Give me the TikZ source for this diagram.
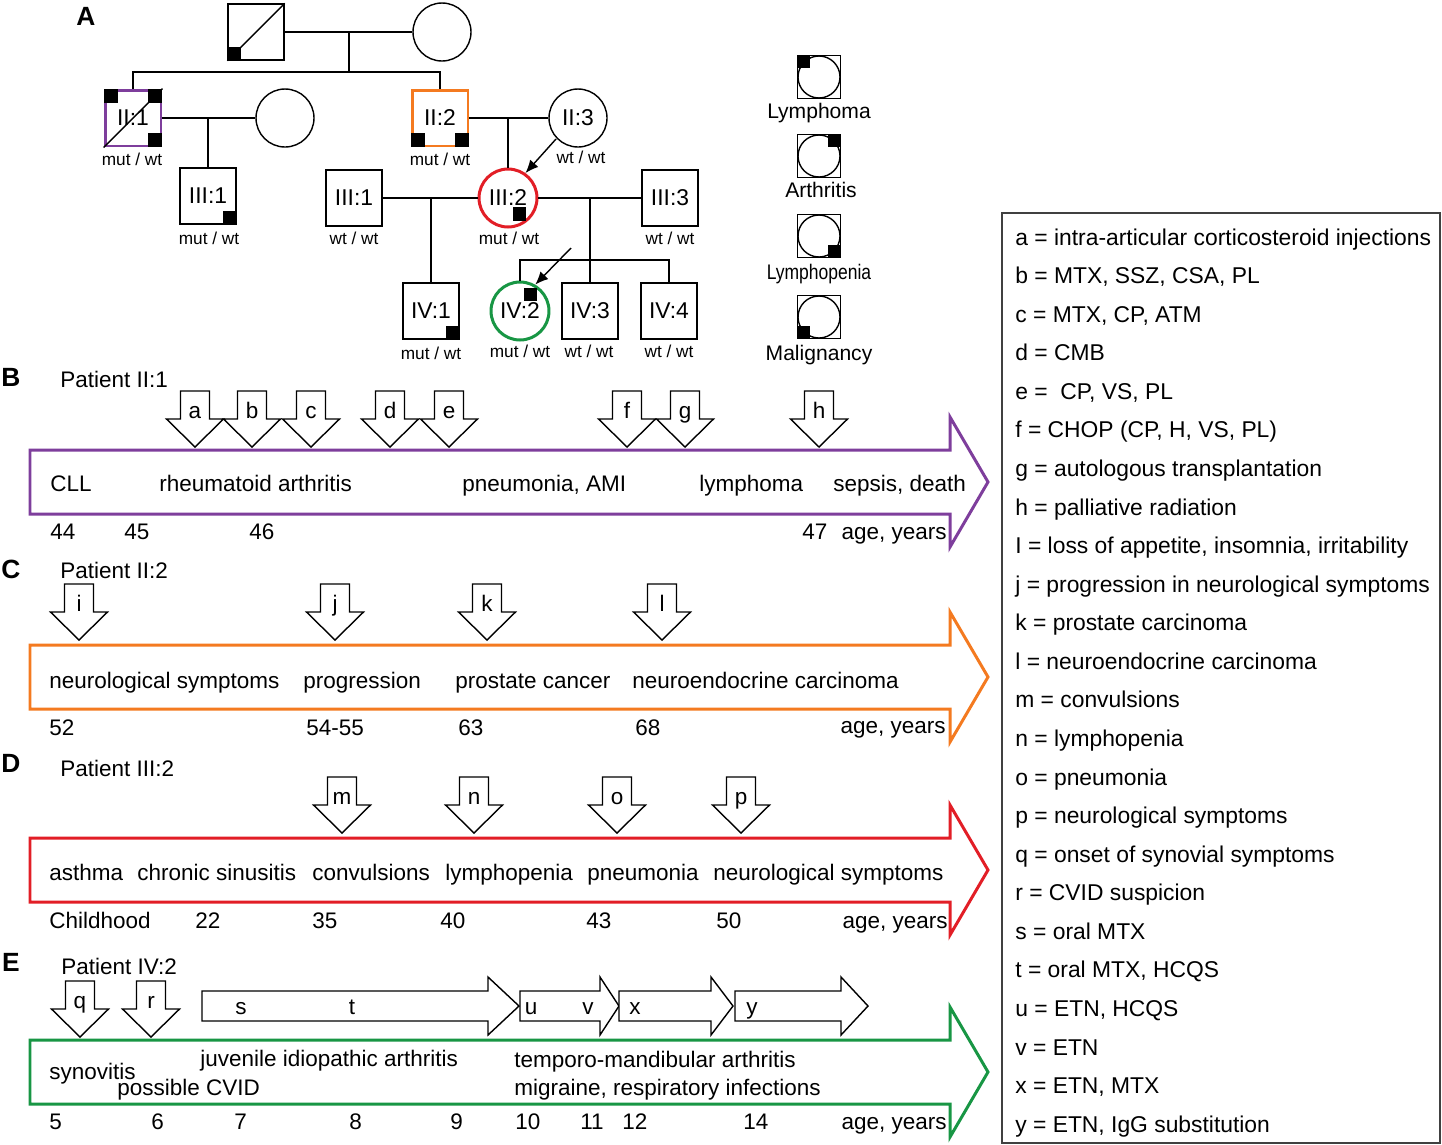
\documentclass[tikz,border=0pt]{standalone}
\usepackage{fontspec}
\setmainfont{Liberation Sans}
\usepackage{graphicx}
\usetikzlibrary{arrows.meta}

\definecolor{pbpurple}{RGB}{126,62,156}
\definecolor{pborange}{RGB}{244,122,32}
\definecolor{pbred}{RGB}{226,30,38}
\definecolor{pbgreen}{RGB}{24,150,68}

\newcommand\idfont{\fontsize{13}{15}\selectfont}
\newcommand\genofont{\fontsize{9.8}{11}\selectfont}

\tikzset{
	txt/.style={inner sep=0pt, text height=9.2pt, text depth=0pt},
	ped/.style={line width=0.8pt},
	male/.style={draw, ped, minimum size=1.12cm, inner sep=0pt, font=\idfont},
	female/.style={draw, ped, circle, minimum size=1.16cm, inner sep=0pt, font=\idfont},
	geno/.style={inner sep=0pt, text height=7pt, text depth=0pt, font=\genofont},
	panel/.style={inner sep=0pt, text height=10.7pt, text depth=0pt, font=\fontsize{15}{17}\selectfont\bfseries},
	keysym/.style={draw, ped, minimum size=0.86cm, inner sep=0pt},
	keytxt/.style={inner sep=0pt, text height=8.6pt, text depth=0pt, font=\fontsize{12}{14}\selectfont},
	outline/.style={line width=0.8pt, fill=white},
	proband/.style={ped, -{Latex[length=0.26cm, width=0.22cm]}},
}

% down arrow: tip x, tip y, letter
\newcommand\dnarrow[3]{%
	\draw[outline] ({#1-14.5},{#2-56}) -- ({#1+14.5},{#2-56}) -- ({#1+14.5},{#2-28}) -- ({#1+28.5},{#2-28})
		-- (#1,#2) -- ({#1-28.5},{#2-28}) -- ({#1-14.5},{#2-28}) -- cycle;
	\node[txt] (ev-#3) at (#1,{#2-37}) {#3};}

% right arrow: start x, head x, tip x, mid y
\newcommand\rtarrow[4]{%
	\draw[outline] (#1,{#4-15}) -- (#2,{#4-15}) -- (#2,{#4-29}) -- (#3,#4) -- (#2,{#4+29}) -- (#2,{#4+15}) -- (#1,{#4+15}) -- cycle;}

% timeline: colour, mid y
\newcommand\timeline[2]{%
	\draw[#1, line width=1.7pt, fill=white] (30,{#2-32}) -- (950,{#2-32}) -- (950,{#2-65}) -- (988,#2)
		-- (950,{#2+65}) -- (950,{#2+32}) -- (30,{#2+32}) -- cycle;}

\begin{document}
\begin{tikzpicture}[x=0.02cm, y=-0.02cm, font=\fontsize{12.8}{15}\selectfont]
	\fill[white] (0,0) rectangle (1442,1144);
	\useasboundingbox (0,0) rectangle (1442,1144);

	% A: pedigree
	\node[panel] (pA) at (86,16) {A};
	\node[male] (I1) at (256,32) {};
	\node[female] (I2) at (442,32) {};
	\draw[ped] (I1.south west) -- (I1.north east);
	\fill (I1.south west) rectangle ++(14,-14);
	\draw[ped] (I1) -- (I2);
	\coordinate (c1) at (349,32);
	\coordinate (s1) at (349,72);
	\draw[ped] (c1) -- (s1);

	\node[male, draw=pbpurple, line width=1.7pt] (II1) at (133,118) {II:1};
	\draw[ped] (II1.south west) -- (II1.north east);
	\fill (II1.north west) rectangle ++(14,14);
	\fill (II1.north east) rectangle ++(-14,14);
	\fill (II1.south east) rectangle ++(-14,-14);
	\node[geno] (gII1) at (132,159) {mut / wt};
	\node[female] (II1p) at (285,118) {};
	\draw[ped] (II1) -- (II1p);

	\node[male, draw=pborange, line width=1.7pt] (II2) at (440,118) {II:2};
	\fill (II2.south west) rectangle ++(14,-14);
	\fill (II2.south east) rectangle ++(-14,-14);
	\node[geno] (gII2) at (440,159) {mut / wt};
	\node[female] (II3) at (578,118) {II:3};
	\node[geno] (gII3) at (581,157) {wt / wt};
	\draw[ped] (II2) -- (II3);
	\draw[ped] (II1.north) |- (s1) -| (II2.north);

	\node[male] (III1a) at (208,196) {III:1};
	\fill (III1a.south east) rectangle ++(-14,-14);
	\node[geno] (gIII1a) at (209,238) {mut / wt};
	\coordinate (c2) at (208,118);
	\draw[ped] (c2) -- (III1a);

	\node[female, draw=pbred, line width=1.7pt] (III2) at (508,198) {III:2};
	\fill (513,207) rectangle (526,221);
	\node[geno] (gIII2) at (509,238) {mut / wt};
	\coordinate (c3) at (508,118);
	\draw[ped] (c3) -- (III2);
	\coordinate (pa1) at (556,139);
	\draw[proband] (pa1) -- (III2.55);

	\node[male] (III1b) at (354,198) {III:1};
	\node[geno] (gIII1b) at (354,238) {wt / wt};
	\node[male] (III3) at (670,198) {III:3};
	\node[geno] (gIII3) at (670,238) {wt / wt};
	\draw[ped] (III1b) -- (III2);
	\draw[ped] (III2) -- (III3);

	\node[male] (IV1) at (431,311) {IV:1};
	\fill (IV1.south east) rectangle ++(-14,-14);
	\node[geno] (gIV1) at (431,353) {mut / wt};
	\coordinate (c4) at (431,198);
	\draw[ped] (c4) -- (IV1);

	\node[female, draw=pbgreen, line width=1.7pt] (IV2) at (520,311) {IV:2};
	\fill (524,288) rectangle (537,301);
	\node[geno] (gIV2) at (520,351) {mut / wt};
	\node[male] (IV3) at (590,311) {IV:3};
	\node[geno] (gIV3) at (589,351) {wt / wt};
	\node[male] (IV4) at (669,311) {IV:4};
	\node[geno] (gIV4) at (669,351) {wt / wt};
	\coordinate (c5) at (590,198);
	\coordinate (s2) at (590,260);
	\draw[ped] (c5) -- (IV3);
	\draw[ped] (IV2.north) |- (s2) -| (IV4.north);
	\coordinate (pa2) at (571,248);
	\draw[proband] (pa2) -- (IV2.60);

	% symbol key
	\node[keysym] (k1) at (819,77) {};
	\node[draw, ped, circle, minimum size=0.84cm, inner sep=0pt] (k1c) at (k1) {};
	\fill (k1.north west) rectangle ++(13,13);
	\node[keytxt] (k1t) at (819,111) {Lymphoma};
	\node[keysym] (k2) at (819,156) {};
	\node[draw, ped, circle, minimum size=0.84cm, inner sep=0pt] (k2c) at (k2) {};
	\fill (k2.north east) rectangle ++(-13,13);
	\node[keytxt] (k2t) at (821,190) {Arthritis};
	\node[keysym] (k3) at (819,236) {};
	\node[draw, ped, circle, minimum size=0.84cm, inner sep=0pt] (k3c) at (k3) {};
	\fill (k3.south east) rectangle ++(-13,-13);
	\node[keytxt] (k3t) at (819,272) {\scalebox{0.83}[1]{Lymphopenia}};
	\node[keysym] (k4) at (819,317) {};
	\node[draw, ped, circle, minimum size=0.84cm, inner sep=0pt] (k4c) at (k4) {};
	\fill (k4.south west) rectangle ++(13,-13);
	\node[keytxt] (k4t) at (819,353) {Malignancy};

	% B: patient II:1
	\node[panel] (pB) at (11,377) {B};
	\node[txt, anchor=west] (ptB) at (60,379) {Patient II:1};
	\timeline{pbpurple}{482}
	\foreach \x/\l in {195/a,252/b,311/c,390/d,449/e,627/f,685/g,819/h} {\dnarrow{\x}{447}{\l}}
	\node[txt, anchor=west] (b1) at (50,483) {CLL};
	\node[txt, anchor=west] (b2) at (159,483) {rheumatoid arthritis};
	\node[txt, anchor=west] (b3) at (462,483) {pneumonia, AMI};
	\node[txt, anchor=west] (b4) at (699,483) {lymphoma};
	\node[txt, anchor=west] (b5) at (833,483) {sepsis, death};
	\node[txt, anchor=west] (bage1) at (50,531) {44};
	\node[txt, anchor=west] (bage2) at (124,531) {45};
	\node[txt, anchor=west] (bage3) at (249,531) {46};
	\node[txt, anchor=west] (bage4) at (802,531) {47};
	\node[txt, anchor=east] (bage5) at (947,531) {age, years};

	% C: patient II:2
	\node[panel] (pC) at (11,569) {C};
	\node[txt, anchor=west] (ptC) at (60,570) {Patient II:2};
	\timeline{pborange}{677}
	\foreach \x/\l in {79/i,335/j,487/k,662/l} {\dnarrow{\x}{640}{\l}}
	\node[txt, anchor=west] (c1t) at (49,680) {neurological symptoms};
	\node[txt, anchor=west] (c2t) at (303,680) {progression};
	\node[txt, anchor=west] (c3t) at (455,680) {prostate cancer};
	\node[txt, anchor=west] (c4t) at (632,680) {neuroendocrine carcinoma};
	\node[txt, anchor=west] (cage1) at (49,727) {52};
	\node[txt, anchor=west] (cage2) at (306,727) {54-55};
	\node[txt, anchor=west] (cage3) at (458,727) {63};
	\node[txt, anchor=west] (cage4) at (635,727) {68};
	\node[txt, anchor=east] (cage5) at (946,725) {age, years};

	% D: patient III:2
	\node[panel] (pD) at (11,763) {D};
	\node[txt, anchor=west] (ptD) at (60,768) {Patient III:2};
	\timeline{pbred}{870}
	\foreach \x/\l in {342/m,474/n,617/o,741/p} {\dnarrow{\x}{833}{\l}}
	\node[txt, anchor=west] (d1) at (49,872) {asthma};
	\node[txt, anchor=west] (d2) at (137,872) {chronic sinusitis};
	\node[txt, anchor=west] (d3) at (312,872) {convulsions};
	\node[txt, anchor=west] (d4) at (445,872) {lymphopenia};
	\node[txt, anchor=west] (d5) at (587,872) {pneumonia};
	\node[txt, anchor=west] (d6) at (713,872) {neurological symptoms};
	\node[txt, anchor=west] (dage1) at (49,920) {Childhood};
	\node[txt, anchor=west] (dage2) at (195,920) {22};
	\node[txt, anchor=west] (dage3) at (312,920) {35};
	\node[txt, anchor=west] (dage4) at (440,920) {40};
	\node[txt, anchor=west] (dage5) at (586,920) {43};
	\node[txt, anchor=west] (dage6) at (716,920) {50};
	\node[txt, anchor=east] (dage7) at (948,920) {age, years};

	% E: patient IV:2
	\node[panel] (pE) at (11,962) {E};
	\node[txt, anchor=west] (ptE) at (61,966) {Patient IV:2};
	\timeline{pbgreen}{1072}
	\foreach \x/\l in {80/q,151/r} {\dnarrow{\x}{1037}{\l}}
	\rtarrow{202}{488}{519}{1006}
	\rtarrow{520}{600}{619}{1006}
	\rtarrow{619}{711}{733}{1006}
	\rtarrow{735}{841}{868}{1006}
	\node[txt] (ev-s) at (241,1006) {s};
	\node[txt] (ev-t) at (352,1006) {t};
	\node[txt] (ev-u) at (531,1006) {u};
	\node[txt] (ev-v) at (588,1006) {v};
	\node[txt] (ev-x) at (635,1006) {x};
	\node[txt] (ev-y) at (752,1006) {y};
	\node[txt, anchor=west] (e1) at (49,1071) {synovitis};
	\node[txt, anchor=west] (e2) at (117,1087) {possible CVID};
	\node[txt, anchor=west] (e3) at (200,1058) {juvenile idiopathic arthritis};
	\node[txt, anchor=west] (e4) at (514,1059) {temporo-mandibular arthritis};
	\node[txt, anchor=west] (e5) at (514,1087) {migraine, respiratory infections};
	\node[txt, anchor=west] (eage1) at (49,1121) {5};
	\node[txt, anchor=west] (eage2) at (151,1121) {6};
	\node[txt, anchor=west] (eage3) at (234,1121) {7};
	\node[txt, anchor=west] (eage4) at (349,1121) {8};
	\node[txt, anchor=west] (eage5) at (450,1121) {9};
	\node[txt, anchor=west] (eage6) at (515,1121) {10};
	\node[txt, anchor=west] (eage7) at (580,1121) {11};
	\node[txt, anchor=west] (eage8) at (622,1121) {12};
	\node[txt, anchor=west] (eage9) at (743,1121) {14};
	\node[txt, anchor=east] (eage10) at (947,1121) {age, years};

	% abbreviation key
	\draw[line width=0.9pt, draw=black!75] (1002,213) rectangle (1440,1143);
	\foreach \t [count=\i from 0] in {a = intra-articular corticosteroid injections, {b = MTX, SSZ, CSA, PL}, {c = MTX, CP, ATM},
		d = CMB, {e = \ CP, VS, PL}, {f = CHOP (CP, H, VS, PL)}, g = autologous transplantation, h = palliative radiation,
		{I = loss of appetite, insomnia, irritability}, j = progression in neurological symptoms, k = prostate carcinoma,
		l = neuroendocrine carcinoma, m = convulsions, n = lymphopenia, o = pneumonia, p = neurological symptoms,
		q = onset of synovial symptoms, r = CVID suspicion, s = oral MTX, {t = oral MTX, HCQS}, {u = ETN, HCQS},
		v = ETN, {x = ETN, MTX}, {y = ETN, IgG substitution}}
		{\node[txt, anchor=west, font=\fontsize{13}{15}\selectfont] (key\i) at (1015,{237+38.57*\i}) {\t};}
\end{tikzpicture}
\end{document}
